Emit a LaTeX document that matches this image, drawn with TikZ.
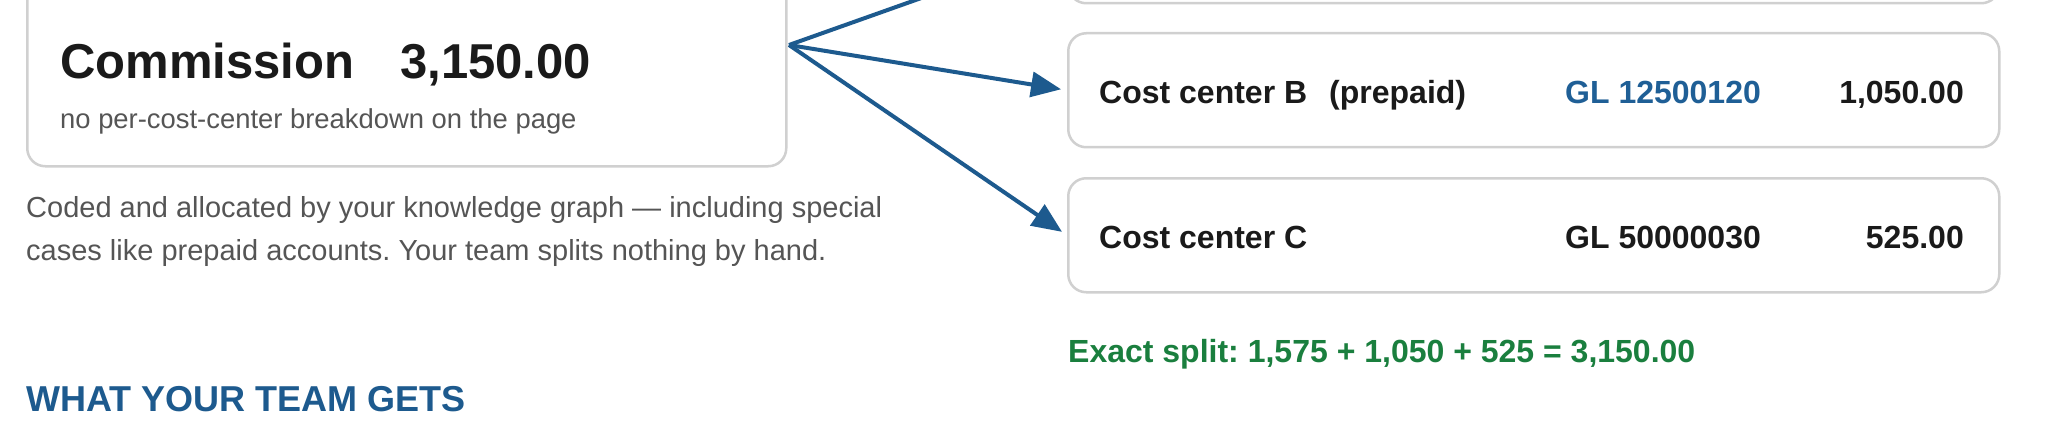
\documentclass[tikz,border=0pt]{standalone}
\usepackage{fontspec}
\setmainfont{Liberation Sans}
\usetikzlibrary{arrows.meta}
\definecolor{navy}{HTML}{1D5A8E}
\definecolor{glblue}{HTML}{1F5F96}
\definecolor{okgreen}{HTML}{1A7F3E}
\definecolor{graytext}{HTML}{555555}
\definecolor{cardgray}{HTML}{D0D0D0}
\definecolor{ink}{HTML}{1A1A1A}
\frenchspacing
\begin{document}
\begin{tikzpicture}[x=1pt,y=-1pt,
  card/.style={draw=cardgray, line width=2.5pt, rounded corners=18pt, fill=white, inner sep=0pt, anchor=north west},
  txt/.style={anchor=base west, inner sep=0pt},
  txtr/.style={anchor=base east, inner sep=0pt},
  rowtxt/.style={txt, font=\fontsize{32}{38}\selectfont\bfseries, text=ink},
  rowamt/.style={txtr, font=\fontsize{32}{38}\selectfont\bfseries, text=ink},
  arr/.style={draw=navy, line width=4pt, -{Triangle[length=30pt,width=25pt]}, shorten >=6pt}
]
\useasboundingbox (0,0) rectangle (2048,441);
\clip (0,0) rectangle (2048,441);
\fill[white] (0,0) rectangle (2048,441);

% left card
\node[card, minimum width=759pt, minimum height=225pt] (src box) at (26,-60) {};
\node[txt, font=\fontsize{49}{58}\selectfont\bfseries, text=ink] (comm) at (60,79) {Commission};
\node[txt, font=\fontsize{49}{58}\selectfont\bfseries, text=ink] (commamt) at (400,79) {3,150.00};
\node[txt, font=\fontsize{27.4}{33}\selectfont, text=graytext] (nobreak) at (60,129) {no per-cost-center breakdown on the page};

\node[txt, font=\fontsize{29}{35}\selectfont, text=graytext] (body1) at (26,217) {Coded and allocated by your knowledge graph — including special};
\node[txt, font=\fontsize{29}{35}\selectfont, text=graytext] (body2) at (26,260) {cases like prepaid accounts. Your team splits nothing by hand.};

\node[txt, font=\fontsize{36}{42}\selectfont\bfseries, text=navy] (heading) at (26,411) {WHAT YOUR TEAM GETS};

% right cards
\node[card, minimum width=931pt, minimum height=114pt] (boxA) at (1067,-112) {};
\node[card, minimum width=931pt, minimum height=114pt] (boxB) at (1067,32) {};
\node[card, minimum width=931pt, minimum height=114pt] (boxC) at (1067,177) {};

\node[rowtxt] (bname) at (1099,104) {Cost center B};
\node[rowtxt] (bpre) at (1329,104) {(prepaid)};
\node[txt, font=\fontsize{32}{38}\selectfont\bfseries, text=glblue] (bgl) at (1565,104) {GL 12500120};
\node[rowamt] (bamt) at (1964,104) {1,050.00};

\node[rowtxt] (cname) at (1099,248) {Cost center C};
\node[rowtxt] (cgl) at (1565,248) {GL 50000030};
\node[rowamt] (camt) at (1964,248) {525.00};

\node[txt, font=\fontsize{32}{38}\selectfont\bfseries, text=okgreen] (split) at (1068,362) {Exact split: 1,575 + 1,050 + 525 = 3,150.00};

% arrows
\coordinate (src) at (789,45);
\draw[arr] (src) -- (boxA.west);
\draw[arr] (src) -- (boxB.west);
\draw[arr] (src) -- (boxC.west);
\end{tikzpicture}
\end{document}
